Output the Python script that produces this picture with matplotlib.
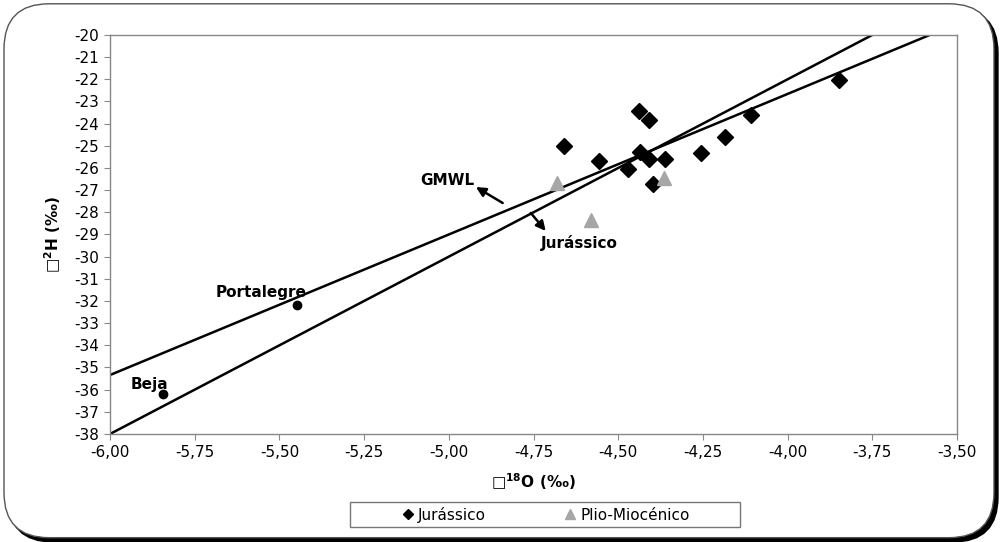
import numpy as np
import matplotlib
matplotlib.use("Agg")
import matplotlib.pyplot as plt
from matplotlib.patches import FancyBboxPatch, Rectangle
from matplotlib.ticker import FuncFormatter, MultipleLocator

plt.rcParams['font.family'] = ['DejaVu Sans']

# Jurássico samples (d18O, d2H)
jur_x = [-4.66, -4.557, -4.44, -4.409, -4.437, -4.409, -4.362, -4.47, -4.398, -4.255, -4.185, -4.107, -3.849]
jur_y = [-25.0, -25.67, -23.43, -23.83, -25.26, -25.61, -25.61, -26.06, -26.72, -25.31, -24.61, -23.61, -22.03]

# Plio-Miocénico samples
plio_x = [-4.682, -4.581, -4.365]
plio_y = [-26.69, -28.34, -26.47]

# reference stations
stations = ["Portalegre", "Beja"]
st_x = [-5.447, -5.845]
st_y = [-32.18, -36.21]

# lines: GMWL and local Jurássico regression
gmwl_slope, gmwl_int = 8.0, 10.0
jur_slope, jur_int = 6.34, 2.70

fig = plt.figure(figsize=(10.02, 5.42), dpi=100)

# rounded frame with dark shadow
shadow = FancyBboxPatch((0.008, 0.0), 0.988, 0.985, boxstyle="round,pad=0,rounding_size=0.045",
                        transform=fig.transFigure, facecolor="black", edgecolor="black",
                        mutation_aspect=1002/542, zorder=-10)
frame = FancyBboxPatch((0.004, 0.008), 0.988, 0.985, boxstyle="round,pad=0,rounding_size=0.045",
                       transform=fig.transFigure, facecolor="white", edgecolor="#555555",
                       linewidth=1.0, mutation_aspect=1002/542, zorder=-9)
fig.patches.extend([shadow, frame])

ax = fig.add_axes([0.1098, 0.1993, 0.8453, 0.7362])
ax.set_xlim(-6.0, -3.5)
ax.set_ylim(-38, -20)

xs = np.array([-6.0, -3.5])
ax.plot(xs, gmwl_slope * xs + gmwl_int, color="black", lw=1.8, zorder=2)
ax.plot(xs, jur_slope * xs + jur_int, color="black", lw=1.8, zorder=2)

ax.plot(jur_x, jur_y, "D", color="black", ms=8, ls="none", label="Jurássico", zorder=3)
ax.plot(plio_x, plio_y, "^", color="#a6a6a6", ms=10, ls="none", label="Plio-Miocénico", zorder=3)
ax.plot(st_x, st_y, "o", color="black", ms=6, ls="none", zorder=3)

ax.text(-5.42, -31.6, stations[0], fontsize=11, fontweight="bold", ha="right", va="center")
ax.text(-5.94, -35.75, stations[1], fontsize=11, fontweight="bold", ha="left", va="center")

arrow = dict(arrowstyle="-|>", color="black", lw=1.8, mutation_scale=14, shrinkA=0, shrinkB=0)
ax.text(-4.925, -26.55, "GMWL", fontsize=11, fontweight="bold", ha="right", va="center")
ax.annotate("", xy=(-4.92, -26.86), xytext=(-4.841, -27.58), arrowprops=arrow)
ax.text(-4.50, -29.38, "Jurássico", fontsize=11, fontweight="bold", ha="right", va="center")
ax.annotate("", xy=(-4.714, -28.84), xytext=(-4.758, -28.03), arrowprops=arrow)

ax.xaxis.set_major_locator(MultipleLocator(0.25))
ax.yaxis.set_major_locator(MultipleLocator(1))
ax.xaxis.set_major_formatter(FuncFormatter(lambda v, p: f"{v:.2f}".replace(".", ",")))
ax.yaxis.set_major_formatter(FuncFormatter(lambda v, p: f"{v:.0f}"))
ax.tick_params(direction="out", length=4, color="#888888", labelsize=11, pad=4)
for s in ax.spines.values():
    s.set_color("#888888")
    s.set_linewidth(1.0)

ax.set_xlabel("\u25a1$^{\\mathbf{18}}$O (‰)", fontsize=11, fontweight="bold", labelpad=8)
ax.set_ylabel("\u25a1$^{\\mathbf{2}}$H (‰)", fontsize=11, fontweight="bold", labelpad=8)

# legend box
fig.patches.append(Rectangle((0.349, 0.0277), 0.39, 0.0461, transform=fig.transFigure,
                             facecolor="white", edgecolor="#777777", linewidth=1.0, zorder=1))
leg = fig.legend(loc="center", bbox_to_anchor=(0.544, 0.0507), ncol=2, fontsize=11,
                 frameon=False, handletextpad=0.2, columnspacing=5.0, borderpad=0.0,
                 handlelength=1.0, markerscale=0.7)
leg.set_zorder(2)

fig.savefig("out.png", dpi=100)
